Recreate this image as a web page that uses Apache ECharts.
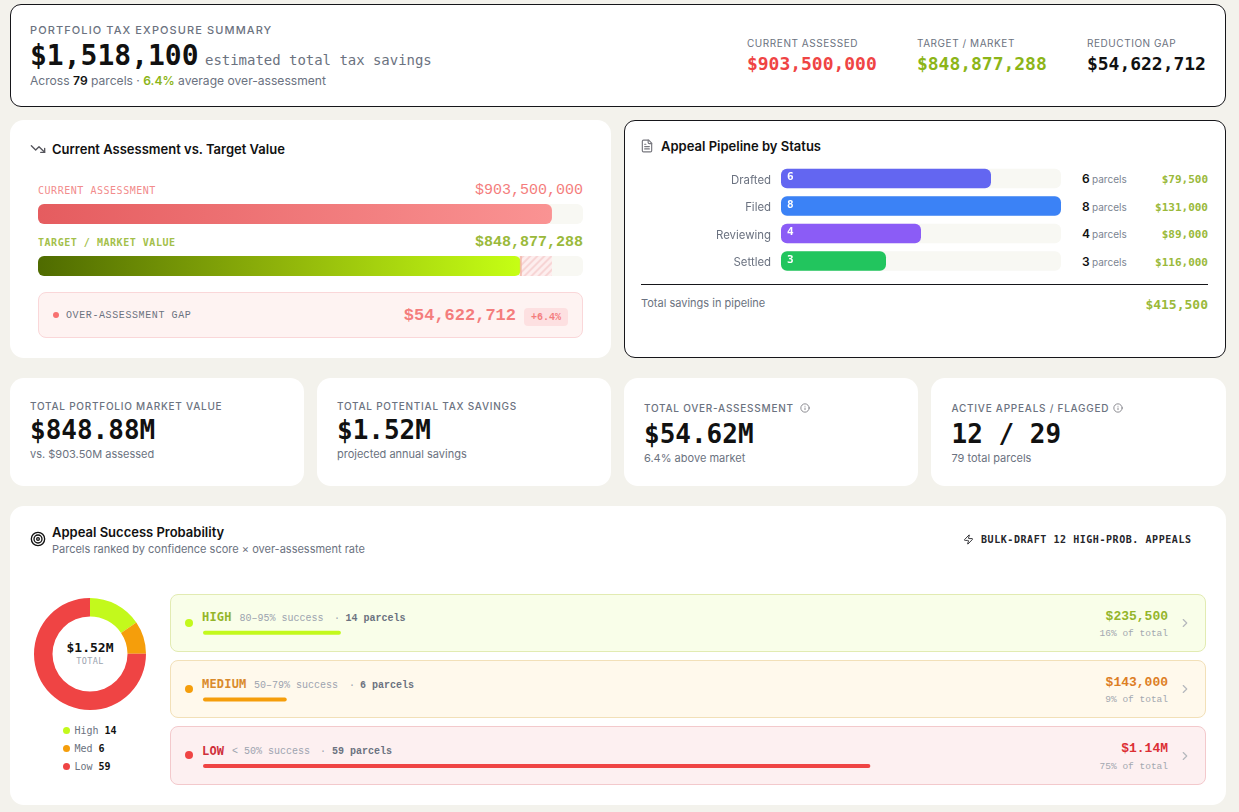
<!DOCTYPE html>
<html lang="en">
<head>
<meta charset="utf-8">
<title>Portfolio Tax Exposure Summary</title>
<script src="https://cdn.jsdelivr.net/npm/echarts@6/dist/echarts.min.js"></script>
<style>
  html, body { margin: 0; padding: 0; width: 1239px; height: 812px; overflow: hidden; background: #f3f2ec; }
  body { position: relative; font-family: Inter, "Noto Sans", sans-serif; color: #111; }
  .card { position: absolute; box-sizing: border-box; background: #fff; border-radius: 14px; }
  .card.outlined { border: 1px solid #16161a; border-radius: 11px; }
  .box { position: absolute; box-sizing: border-box; }
  .t { position: absolute; white-space: nowrap; line-height: 1; transform: translateY(-50%); }
  .t.right { transform: translate(-100%, -50%); }
  .t.mid { transform: translate(-50%, -50%); }
  .mono { font-family: "Liberation Mono", monospace; }
  .dj { font-family: "DejaVu Sans Mono", monospace; }
  .icon { position: absolute; fill: none; stroke-linecap: round; stroke-linejoin: round; }
  #chart { position: absolute; left: 0; top: 0; width: 1239px; height: 812px; pointer-events: none; }
</style>
</head>
<body>
<div id="page"></div>
<div id="chart"></div>
<script>
// Assessment comparison
const assessmentCategories = ['Current Assessment', 'Target / Market Value'];
const assessedValue = 903500000;
const targetValue = 848877288;
const gapValue = 54622712;
const assessmentAxisMax = 958100000;

// Appeal pipeline
const pipelineStatus = ['Drafted', 'Filed', 'Reviewing', 'Settled'];
const pipelineParcels = [6, 8, 4, 3];
const pipelineSavings = [79500, 131000, 89000, 116000];
const pipelineColors = ['#6366f1', '#3b82f6', '#8b5cf6', '#22c55e'];
const pipelineTotal = 415500;

// Success probability tiers
const tierNames = ['High', 'Medium', 'Low'];
const tierParcels = [14, 6, 59];
const tierSavings = [235500, 143000, 1139600];
const tierSavingLabels = ['$235,500', '$143,000', '$1.14M'];
const tierShares = [16, 9, 75];
const tierRanges = ['80–95% success', '50–79% success', '< 50% success'];
const tierColors = ['#c3f91c', '#f59e0b', '#ef4444'];
const totalSavings = 1518100;

const GREEN = '#8cb518';
const GREY = '#6b7280';
const SALMON = '#f47d7d';
const usd = v => '$' + v.toLocaleString('en-US');

const page = document.getElementById('page');
function card(x, y, w, h, outlined) {
  const d = document.createElement('div');
  d.className = 'card' + (outlined ? ' outlined' : '');
  d.style.cssText = `left:${x}px;top:${y}px;width:${w}px;height:${h}px`;
  page.appendChild(d);
}
function box(x, y, w, h, css) {
  const d = document.createElement('div');
  d.className = 'box';
  d.style.cssText = `left:${x}px;top:${y}px;width:${w}px;height:${h}px;${css}`;
  page.appendChild(d);
}
function text(x, y, html, css, cls) {
  const s = document.createElement('span');
  s.className = 't ' + (cls || '');
  s.style.cssText = `left:${x}px;top:${y}px;${css}`;
  s.innerHTML = html;
  page.appendChild(s);
}
function icon(x, y, size, color, weight, paths) {
  const ns = 'http://www.w3.org/2000/svg';
  const s = document.createElementNS(ns, 'svg');
  s.setAttribute('viewBox', '0 0 24 24');
  s.setAttribute('class', 'icon');
  s.setAttribute('width', size);
  s.setAttribute('height', size);
  s.setAttribute('stroke', color);
  s.setAttribute('stroke-width', weight);
  s.style.cssText = `left:${x}px;top:${y}px`;
  s.innerHTML = paths;
  page.appendChild(s);
}

// Panels
card(10, 4, 1216, 102.5, true);
card(10, 120, 601, 238);
card(624, 120, 602, 238, true);
card(10, 378, 294, 108);
card(317, 378, 294, 108);
card(624, 378, 294, 108);
card(931, 378, 295, 108);
card(10, 506, 1216, 299);

// Summary header
text(30, 29.5, 'PORTFOLIO TAX EXPOSURE SUMMARY', `font-size:11px;font-weight:500;letter-spacing:1.1px;color:${GREY}`);
text(30, 55.5, usd(totalSavings), 'font-size:28px;font-weight:700;color:#111', 'dj');
text(205, 59.5, 'estimated total tax savings', `font-size:14px;letter-spacing:-0.03px;color:${GREY}`, 'dj');
text(30, 81, `Across <b style="font-weight:600;color:#111">${tierParcels.reduce((a, b) => a + b, 0)}</b> parcels · <b style="font-weight:600;color:${GREEN}">6.4%</b> average over-assessment`, `font-size:12.1px;color:${GREY}`);
[[747, 'CURRENT ASSESSED', usd(assessedValue), '#ef4444'],
 [917, 'TARGET / MARKET', usd(targetValue), GREEN],
 [1087, 'REDUCTION GAP', usd(gapValue), '#111']].forEach(([x, label, value, color]) => {
  text(x, 43, label, `font-size:10px;letter-spacing:0.55px;color:${GREY}`);
  text(x, 64, value, `font-size:18px;font-weight:700;letter-spacing:-0.03px;color:${color}`, 'dj');
});

// Assessment panel
icon(30, 141, 16, '#55555c', 2, '<polyline points="22 17 13.5 8.5 8.5 13.5 2 7"/><polyline points="16 17 22 17 22 11"/>');
text(52, 149, 'Current Assessment vs. Target Value', 'font-size:13px;font-weight:600;color:#111');
text(38, 190.5, assessmentCategories[0].toUpperCase(), 'font-size:10px;letter-spacing:0.53px;color:#f28c8c', 'dj');
text(583, 190, usd(assessedValue), `font-size:15px;color:${SALMON}`, 'mono right');
text(38, 242.5, assessmentCategories[1].toUpperCase(), 'font-size:10px;font-weight:700;letter-spacing:0.53px;color:#a3c04a', 'dj');
text(583, 242, usd(targetValue), 'font-size:15px;font-weight:700;color:#9ab93a', 'mono right');
box(38, 292, 545, 46, 'background:#fef3f2;border:1px solid #fad7d9;border-radius:8px');
box(53, 312, 6, 6, 'background:#f87171;border-radius:50%');
text(66, 316, 'OVER-ASSESSMENT GAP', `font-size:10px;letter-spacing:0.6px;color:${GREY}`, 'mono');
text(516, 315, usd(gapValue), `font-size:17px;font-weight:700;color:${SALMON}`, 'mono right');
box(524, 308, 44, 18, 'background:#fde0e1;border-radius:4px');
text(546, 317.5, '+6.4%', `font-size:10px;font-weight:700;color:${SALMON}`, 'mono mid');

// Pipeline panel
icon(640, 139, 14, '#77777e', 2, '<path d="M15 2H6a2 2 0 0 0-2 2v16a2 2 0 0 0 2 2h12a2 2 0 0 0 2-2V7Z"/><path d="M14 2v4a2 2 0 0 0 2 2h4"/><path d="M10 9H8"/><path d="M16 13H8"/><path d="M16 17H8"/>');
text(661, 146, 'Appeal Pipeline by Status', 'font-size:13px;font-weight:600;color:#111');
const pipelineRowY = [179, 207, 234, 262];
pipelineStatus.forEach((status, i) => {
  text(1082, pipelineRowY[i], String(pipelineParcels[i]), 'font-size:12px;font-weight:600;color:#111');
  text(1092, pipelineRowY[i], 'parcels', 'font-size:10px;color:#7b8491');
  text(1208, pipelineRowY[i], usd(pipelineSavings[i]), 'font-size:11px;font-weight:700;color:#9ab93a', 'dj right');
});
box(641, 284, 567, 1, 'background:#16161a');
text(641, 303, 'Total savings in pipeline', `font-size:11px;color:${GREY}`);
text(1208, 304, usd(pipelineTotal), 'font-size:13px;font-weight:700;color:#9ab93a', 'dj right');

// KPI tiles
const infoIcon = '<circle cx="12" cy="12" r="10"/><path d="M12 16v-4"/><path d="M12 8h.01"/>';
[[30, 406, 430, 454, 'TOTAL PORTFOLIO MARKET VALUE', '$848.88M', 'vs. $903.50M assessed'],
 [337, 406, 430, 454, 'TOTAL POTENTIAL TAX SAVINGS', '$1.52M', 'projected annual savings'],
 [644, 408, 434, 458, 'TOTAL OVER-ASSESSMENT', '$54.62M', '6.4% above market'],
 [951.5, 408, 434, 458, 'ACTIVE APPEALS / FLAGGED', '12 / 29', '79 total parcels']].forEach(([x, y1, y2, y3, label, value, sub]) => {
  text(x, y1, label, `font-size:10px;font-weight:500;letter-spacing:0.75px;color:${GREY}`);
  text(x, y2, value, 'font-size:26px;font-weight:700;color:#111', 'dj');
  text(x, y3, sub, `font-size:11px;color:${GREY}`);
});
icon(800, 402.5, 10, '#77777e', 2, infoIcon);
icon(1113, 402.5, 10, '#77777e', 2, infoIcon);

// Probability panel
icon(30, 531, 16, '#111', 2, '<circle cx="12" cy="12" r="10"/><circle cx="12" cy="12" r="6"/><circle cx="12" cy="12" r="2"/>');
text(52, 531.5, 'Appeal Success Probability', 'font-size:13px;font-weight:600;color:#111');
text(52, 549, 'Parcels ranked by confidence score × over-assessment rate', `font-size:11px;color:${GREY}`);
icon(963, 534, 11, '#26262b', 2, '<path d="M4 14a1 1 0 0 1-.78-1.63l9.9-10.2a.5.5 0 0 1 .86.46l-1.92 6.02A1 1 0 0 0 13 10h7a1 1 0 0 1 .78 1.63l-9.9 10.2a.5.5 0 0 1-.86-.46l1.92-6.02A1 1 0 0 0 11 14z"/>');
text(981, 539.5, 'BULK-DRAFT 12 HIGH-PROB. APPEALS', 'font-size:10px;font-weight:700;letter-spacing:0.56px;color:#26262b', 'dj');

// Donut centre and legend
text(90, 647, '$' + (totalSavings / 1e6).toFixed(2) + 'M', 'font-size:13px;font-weight:700;color:#111', 'dj mid');
text(90, 661, 'TOTAL', 'font-size:8.5px;letter-spacing:0.4px;color:#9ca3af', 'dj mid');
const legendNames = ['High', 'Med', 'Low'];
legendNames.forEach((name, i) => {
  const y = 730.5 + i * 18;
  box(63, y - 3.5, 7, 7, `background:${tierColors[i]};border-radius:50%`);
  text(74.5, y, name, `font-size:10px;color:${GREY}`, 'dj');
  text(74.5 + name.length * 6 + 6, y, String(tierParcels[i]), 'font-size:10px;font-weight:700;color:#111', 'dj');
});

// Tier rows
const tierRows = [
  { top: 594, bg: '#f9fee9', line: '#e2ebb2', name: '#94b52a', value: '#94b52a', rangeX: 239.5, dotX: 334, countX: 345.5, labelY: 617, valueY: 616, shareY: 633, chevY: 623 },
  { top: 660, bg: '#fff9ec', line: '#f2e0b8', name: '#d98a2b', value: '#dd7e24', rangeX: 254, dotX: 349, countX: 360, labelY: 684, valueY: 682, shareY: 699, chevY: 689 },
  { top: 726, bg: '#fdf0f1', line: '#f3c9cc', name: '#cf2f3a', value: '#dc2f35', rangeX: 232, dotX: 320, countX: 332, labelY: 750.5, valueY: 748, shareY: 766, chevY: 756 }
];
tierRows.forEach((r, i) => {
  box(170, r.top, 1036, i === 2 ? 59 : 58, `background:${r.bg};border:1px solid ${r.line};border-radius:8px`);
  box(185, r.top + 25, 8, 8, `background:${tierColors[i]};border-radius:50%`);
  text(202, r.labelY, tierNames[i].toUpperCase(), `font-size:12px;font-weight:700;letter-spacing:0.2px;color:${r.name}`, 'dj');
  text(r.rangeX, r.labelY + 1.5, tierRanges[i], 'font-size:10px;color:#9ca3af', 'mono');
  text(r.dotX, r.labelY + 1.5, '·', 'font-size:10px;color:#9ca3af', 'mono');
  text(r.countX, r.labelY + 1.5, tierParcels[i] + ' parcels', 'font-size:10px;font-weight:700;color:#6b7280', 'mono');
  text(1168, r.valueY, tierSavingLabels[i], `font-size:13px;font-weight:700;color:${r.value}`, 'mono right');
  text(1168, r.shareY + 0.5, tierShares[i] + '% of total', 'font-size:9.5px;color:#a3a8b0', 'mono right');
  icon(1178, r.chevY - 7, 14, '#b5b8bd', 2, '<path d="m9 18 6-6-6-6"/>');
});

// Bars and donut, all on one transparent layer above the panels
const chart = echarts.init(document.getElementById('chart'));
const assessmentGradient = new echarts.graphic.LinearGradient(0, 0, 1, 0, [
  { offset: 0, color: '#e55c5f' }, { offset: 1, color: '#fa9393' }
]);
const targetGradient = new echarts.graphic.LinearGradient(0, 0, 1, 0, [
  { offset: 0, color: '#4f6b00' }, { offset: 0.5, color: '#8fb30a' }, { offset: 1, color: '#c6ff14' }
]);
const hiddenAxis = { show: false, axisTick: { show: false }, splitLine: { show: false } };

chart.setOption({
  animation: false,
  backgroundColor: 'transparent',
  grid: [
    { left: 38, top: 188, width: 545, height: 104 },
    { left: 781, top: 164.75, width: 280, height: 110 },
    { left: 203, top: 599.4, width: 889, height: 200 }
  ],
  xAxis: [
    { gridIndex: 0, type: 'value', min: 0, max: assessmentAxisMax, ...hiddenAxis },
    { gridIndex: 1, type: 'value', min: 0, max: Math.max(...pipelineParcels), ...hiddenAxis },
    { gridIndex: 2, type: 'value', min: 0, max: totalSavings, ...hiddenAxis }
  ],
  yAxis: [
    { gridIndex: 0, type: 'category', inverse: true, data: assessmentCategories, ...hiddenAxis },
    {
      gridIndex: 1, type: 'category', inverse: true, data: pipelineStatus,
      axisLine: { show: false }, axisTick: { show: false }, splitLine: { show: false },
      axisLabel: {
        margin: 10, formatter: '{s|{value}}',
        rich: { s: { padding: [3.5, 0, 0, 0], color: '#6b7280', fontFamily: 'Inter', fontSize: 11.4 } }
      }
    },
    { gridIndex: 2, type: 'category', inverse: true, data: tierNames, ...hiddenAxis }
  ],
  series: [
    {
      name: 'Assessment', type: 'bar', xAxisIndex: 0, yAxisIndex: 0, stack: 'assessment', barWidth: 20,
      showBackground: true,
      backgroundStyle: { color: '#f8f8f3', borderRadius: 6 },
      data: [
        { value: assessedValue, itemStyle: { color: assessmentGradient, borderRadius: 6 } },
        { value: targetValue, itemStyle: { color: targetGradient, borderRadius: 6 } }
      ]
    },
    {
      name: 'Gap', type: 'bar', xAxisIndex: 0, yAxisIndex: 0, stack: 'assessment', barWidth: 20,
      data: [0, gapValue],
      itemStyle: {
        color: '#fdeeee',
        decal: { symbol: 'rect', color: '#f7d5d5', dashArrayX: [1, 0], dashArrayY: [2, 3], rotation: -Math.PI / 4 }
      }
    },
    {
      name: 'Target marker', type: 'scatter', xAxisIndex: 0, yAxisIndex: 0, symbol: 'rect', symbolSize: [2, 20],
      data: [[targetValue, assessmentCategories[1]]],
      itemStyle: { color: '#f3b3a6' }, z: 5
    },
    {
      name: 'Pipeline', type: 'bar', xAxisIndex: 1, yAxisIndex: 1, barWidth: 19.5,
      showBackground: true,
      backgroundStyle: { color: '#f8f8f3', borderRadius: 6 },
      data: pipelineParcels.map((v, i) => ({ value: v, itemStyle: { color: pipelineColors[i], borderRadius: 6 } })),
      label: {
        show: true, position: 'insideLeft', distance: 6, offset: [0, -1],
        color: '#fff', fontFamily: 'DejaVu Sans Mono', fontWeight: 'bold', fontSize: 11
      }
    },
    {
      name: 'Tier savings', type: 'bar', xAxisIndex: 2, yAxisIndex: 2, barWidth: 4,
      data: tierSavings.map((v, i) => ({ value: v, itemStyle: { color: tierColors[i], borderRadius: 2 } }))
    },
    {
      name: 'Savings share', type: 'pie', center: [90, 654], radius: [37.5, 56], startAngle: 90, clockwise: true,
      label: { show: false }, labelLine: { show: false }, silent: true,
      data: tierSavings.map((v, i) => ({ name: tierNames[i], value: v, itemStyle: { color: tierColors[i] } }))
    }
  ]
});
</script>
</body>
</html>
